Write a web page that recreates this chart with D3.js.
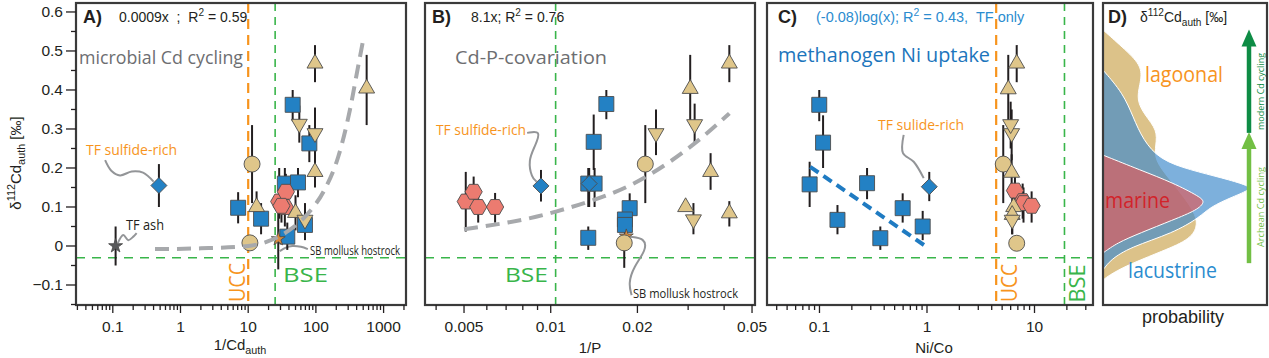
<!DOCTYPE html>
<html><head><meta charset="utf-8">
<script src="https://cdn.jsdelivr.net/npm/d3@7"></script>
<style>
body{margin:0;background:#fff;}
svg{display:block;}
text{font-family:"Liberation Sans",Arial,sans-serif;}
.my{font-family:"Open Sans",sans-serif;}
</style></head><body>
<svg id="c" width="1269" height="358" fill="#231f20"></svg>
<script>
// ---------------- DATA ----------------
// each point: [x, δ112Cd_auth, error-bar low, error-bar high]
// Panel A  (x = 1/Cd_auth)
const aSquares  = [[7.1,0.098,0.058,0.138],[15.5,0.07,0.03,0.11],[37.8,0.024,-0.01,0.06],[34.8,0.16,0.12,0.2],[54.4,0.163,0.125,0.2],[69,0.054,0.015,0.095],[45.4,0.362,0.32,0.4],[80,0.263,0.215,0.31]];
const aTriUp    = [[97,0.468,0.42,0.515],[562,0.404,0.31,0.49],[97,0.19,0.15,0.235],[13.3,0.10,0.06,0.14],[50,0.085,0.04,0.13]];
const aTriDown  = [[56.9,0.313,0.265,0.36],[97,0.289,0.2,0.355],[69,0.067,0.02,0.11]];
const aCircles  = [[11.4,0.21,0.11,0.31],[10.6,0.008,0.008,0.008]];
const aHexes    = [[28.7,0.114,0.07,0.2],[36,0.139,0.09,0.185],[34.8,0.10,0.05,0.15],[31,0.103,0.06,0.15]];
const aDiamonds = [[0.48,0.155,0.10,0.21]];
const aStarsGray= [[0.11,0.0,-0.05,0.05]];
const aStarsOr  = [[27.8,0.018,-0.06,0.10]];
const aFit      = [[0.42,-0.008],[2,-0.006],[10,0.0],[19,0.011],[40,0.04],[77,0.084],[135,0.145],[215,0.23],[319,0.35],[405,0.445],[495,0.525]];
const aUCC = 10, aBSE = 25;
// Panel B  (x = 1/P)
const bSquares  = [[0.0135,0.16,0.10,0.2],[0.0142,0.16,0.10,0.2],[0.0141,0.267,0.195,0.337],[0.0156,0.364,0.325,0.4],[0.0135,0.021,-0.01,0.05],[0.0188,0.097,0.06,0.135],[0.0181,0.068,0.03,0.1],[0.0181,0.054,0.02,0.09]];
const bTriUp    = [[0.0305,0.403,0.31,0.49],[0.0417,0.468,0.42,0.515],[0.0359,0.19,0.144,0.238],[0.0294,0.10,0.10,0.10],[0.0417,0.084,0.05,0.115]];
const bTriDown  = [[0.0232,0.289,0.233,0.35],[0.0316,0.312,0.26,0.365],[0.0313,0.068,0.03,0.11]];
const bCircles  = [[0.0213,0.21,0.11,0.31],[0.018,0.008,-0.056,0.008]];
const bHexes    = [[0.00507,0.114,0.037,0.19],[0.0054,0.139,0.10,0.178],[0.0056,0.10,0.06,0.14],[0.00641,0.10,0.06,0.136]];
const bDiamonds = [[0.00925,0.154,0.114,0.195],[0.0136,0.16,0.10,0.2]];
const bStarsOr  = [[0.0183,0.025,0.025,0.025]];
const bFit      = [[0.005,0.043],[0.0104,0.088],[0.0215,0.178],[0.0316,0.263],[0.0417,0.34]];
const bBSE = 0.0104;
// Panel C  (x = Ni/Co)
const cSquares  = [[0.0995,0.362,0.32,0.4],[0.108,0.265,0.2,0.335],[0.081,0.158,0.1,0.216],[0.147,0.067,0.03,0.105],[0.277,0.161,0.12,0.2],[0.368,0.02,-0.01,0.05],[0.594,0.097,0.06,0.135],[0.912,0.05,0.015,0.09]];
const cTriUp    = [[6.83,0.468,0.42,0.515],[5.7,0.402,0.31,0.49],[6.13,0.188,0.15,0.235],[6.4,0.10,0.06,0.14],[6.2,0.08,0.03,0.13]];
const cTriDown  = [[6.13,0.289,0.22,0.35],[6.0,0.312,0.25,0.37],[6.2,0.067,0.03,0.11]];
const cCircles  = [[5.12,0.21,0.11,0.31],[6.83,0.007,0.007,0.007]];
const cHexes    = [[6.58,0.142,0.1,0.18],[7.76,0.115,0.07,0.16],[7.9,0.11,0.06,0.15],[9.4,0.103,0.06,0.14]];
const cDiamonds = [[1.05,0.152,0.115,0.19]];
const cFit      = [[0.082,0.203],[1.04,-0.006]];
const cUCC = 4.4, cBSE = 19;
const BSE_Y = -0.03;
// Panel D  ([δ, probability])
const lagoonal   = [[0.554,0],[0.503,0.14],[0.459,0.25],[0.413,0.23],[0.374,0.21],[0.336,0.26],[0.297,0.34],[0.259,0.33],[0.221,0.32],[0.169,0.42],[0.118,0.52],[0.079,0.58],[0.049,0.59],[0.015,0.54],[-0.018,0.34],[-0.054,0.125],[-0.079,0.025],[-0.087,0]];
const lacustrine = [[0.451,0],[0.392,0.125],[0.331,0.188],[0.272,0.25],[0.221,0.356],[0.195,0.544],[0.174,0.75],[0.156,0.9],[0.146,0.931],[0.126,0.81],[0.10,0.669],[0.074,0.606],[0.033,0.438],[-0.003,0.169],[-0.036,0.044],[-0.062,0]];
const marine     = [[0.233,0],[0.195,0.231],[0.162,0.438],[0.126,0.606],[0.113,0.638],[0.092,0.588],[0.067,0.438],[0.033,0.231],[0.008,0.088],[-0.018,0]];
const modernArrow  = [0.29, 0.555];
const archeanArrow = [-0.044, 0.292];
// ticks
const yTicks = [-0.1,0,0.1,0.2,0.3,0.4,0.5,0.6];
const yTickLabels = ["−0.1","0","0.1","0.2","0.3","0.4","0.5","0.6"];
const yMinor = [-0.15,-0.05,0.05,0.15,0.25,0.35,0.45,0.55];
const aTicks = [0.1,1,10,100,1000], aTickLabels = ["0.1","1","10","100","1000"];
const bTicks = [0.005,0.01,0.02,0.05], bTickLabels = ["0.005","0.01","0.02","0.05"];
const cTicks = [0.1,1,10], cTickLabels = ["0.1","1","10"];
// annotation leader lines (data units)
const aSulfideLink = [[0.077,0.22],[0.095,0.193],[0.128,0.181],[0.19,0.191],[0.28,0.188],[0.40,0.165]];
const aAshLink = [[0.119,0.008],[0.143,0.028],[0.169,0.015],[0.201,0.024],[0.225,0.033]];
const aSBLink = [[29.4,-0.013],[36,-0.004],[45,0.0],[60,-0.002],[76,-0.008]];
const bSulfideLink = [[0.00828,0.29],[0.00929,0.297],[0.00881,0.255],[0.00835,0.22],[0.00859,0.174],[0.00894,0.165]];
const bSBLink = [[0.01887,0.024],[0.0212,0.02],[0.0215,-0.01],[0.0194,-0.053],[0.0186,-0.096],[0.0191,-0.126]];
const cSulideLink = [[0.607,0.285],[0.598,0.238],[0.752,0.216],[0.932,0.174]];

// ---------------- LAYOUT ----------------
const svg = d3.select('#c');
const TOP = 3, BOT = 305;
const yS = d3.scaleLinear().domain([-0.15,0.623]).range([304.5,3]);
const xA = d3.scaleLog().domain([0.0286,2143]).range([76,406]);
const xB = d3.scaleLog().domain([0.00366,0.0512]).range([425,755]);
const xC = d3.scaleLog().domain([0.0325,35]).range([767,1093]);
const xD = d3.scaleLinear().domain([0,1]).range([1103,1263]);

const C = {blue:'#2381c4', tan:'#dfc68a', hex:'#ec7b70', starOr:'#d98b3c', starGray:'#58595b',
  orange:'#f7941d', green:'#39b54a', gray:'#6d6e71', lead:'#939598', fit:'#a7a9ac'};

function makePanel(id, x0, x1) {
  svg.append('clipPath').attr('id','clip'+id).append('rect')
    .attr('x',x0).attr('y',TOP).attr('width',x1-x0).attr('height',BOT-TOP);
  const g = svg.append('g');
  const inner = g.append('g').attr('clip-path',`url(#clip${id})`);
  return {g, inner, x0, x1};
}
function frame(p){
  p.g.append('rect').attr('x',p.x0).attr('y',TOP).attr('width',p.x1-p.x0).attr('height',BOT-TOP)
    .attr('fill','none').attr('stroke','#3a3a3a').attr('stroke-width',2.2);
}
function minorLog(scale, majors){
  const [a,b] = scale.domain(); const out=[];
  for(let e=-4;e<=4;e++) for(let m=1;m<=9;m++){
    const v = +(m*Math.pow(10,e)).toPrecision(6);
    if(v>=a && v<=b && !majors.some(t=>Math.abs(t-v)/v<1e-6)) out.push(v);
  }
  return out;
}
function xAxis(p, x, ticks, labels){
  const g = p.g.append('g');
  g.selectAll(null).data(minorLog(x,ticks)).join('line')
    .attr('x1',d=>x(d)).attr('x2',d=>x(d)).attr('y1',BOT).attr('y2',BOT+5)
    .attr('stroke','#231f20').attr('stroke-width',1.3);
  g.selectAll(null).data(ticks).join('line')
    .attr('x1',d=>x(d)).attr('x2',d=>x(d)).attr('y1',BOT).attr('y2',BOT+8)
    .attr('stroke','#231f20').attr('stroke-width',1.3);
  g.selectAll(null).data(ticks).join('text')
    .attr('x',d=>x(d)).attr('y',332).attr('text-anchor','middle').attr('font-size',15.5)
    .text((d,i)=>labels[i]);
}
function rich(parent, x, y, parts, fs, attrs={}){
  const t = parent.append('text').attr('x',x).attr('y',y).attr('font-size',fs);
  Object.entries(attrs).forEach(([k,v])=>t.attr(k,v));
  let shift = 0;
  parts.forEach(([s,k])=>{
    const ts = t.append('tspan').text(s);
    const target = k==='sup' ? -fs*0.4 : k==='sub' ? fs*0.28 : 0;
    if(target-shift!==0) ts.attr('dy', target-shift);
    shift = target;
    if(k!=='n') ts.attr('font-size', fs*0.72);
  });
  return t;
}
const hexPath = (r)=>d3.range(6).map(i=>{const a=i*Math.PI/3;return [r*Math.cos(a), r*Math.sin(a)];});
const shapes = {
  square: d3.symbol(d3.symbolSquare,225)(),
  triUp: d3.symbol(d3.symbolTriangle,110)(),
  star: d3.symbol(d3.symbolStar,60)(),
  hex: 'M'+hexPath(8.6).map(p=>p.join(',')).join('L')+'Z',
  diamond: 'M0,-8L8,0L0,8L-8,0Z',
  circle: d3.symbol(d3.symbolCircle,201)()
};
function drawSeries(p, x, list){
  list.forEach(([arr])=>{
    p.inner.append('g').selectAll(null).data(arr.filter(d=>d[2]!==d[3])).join('line')
      .attr('x1',d=>x(d[0])).attr('x2',d=>x(d[0])).attr('y1',d=>yS(d[2])).attr('y2',d=>yS(d[3]))
      .attr('stroke','#231f20').attr('stroke-width',2);
  });
  list.forEach(([arr, shape, fill, rot])=>{
    p.inner.append('g').selectAll(null).data(arr).join('path')
      .attr('d', shapes[shape])
      .attr('transform', d=>`translate(${x(d[0])},${yS(d[1])})${rot?' rotate(180)':''}`)
      .attr('fill', fill).attr('stroke','#4d4d4d').attr('stroke-width',0.9);
  });
}
function vline(p, x, v, col, w){
  p.inner.append('line').attr('x1',x(v)).attr('x2',x(v)).attr('y1',TOP).attr('y2',BOT)
    .attr('stroke',col).attr('stroke-width',w).attr('stroke-dasharray', col===C.orange?'10,6':'8,6');
}
function hline(p, v){
  p.inner.append('line').attr('x1',p.x0).attr('x2',p.x1).attr('y1',yS(v)).attr('y2',yS(v))
    .attr('stroke',C.green).attr('stroke-width',1.6).attr('stroke-dasharray','9,7');
}
function fitLine(p, x, data, col, w, dash, curve){
  p.inner.append('path').datum(data)
    .attr('d', d3.line().x(d=>x(d[0])).y(d=>yS(d[1])).curve(curve||d3.curveMonotoneX))
    .attr('fill','none').attr('stroke',col).attr('stroke-width',w).attr('stroke-dasharray',dash);
}
function leader(p, x, data, curve){
  p.inner.append('path').datum(data)
    .attr('d', d3.line().x(d=>x(d[0])).y(d=>yS(d[1])).curve(curve||d3.curveCatmullRom))
    .attr('fill','none').attr('stroke',C.lead).attr('stroke-width',2);
}
function label(parent, x, y, txt, fs, col, len, cls, anchor){
  const t = parent.append('text').attr('x',x).attr('y',y).attr('font-size',fs).attr('fill',col).text(txt);
  if(cls) t.attr('class',cls);
  if(len) t.attr('textLength',len).attr('lengthAdjust','spacingAndGlyphs');
  if(anchor) t.attr('text-anchor',anchor);
  return t;
}
function vlabel(parent, xBase, yc, txt, fs, col, len){
  const g = parent.append('g').attr('transform',`translate(${xBase},${yc}) rotate(-90)`);
  const t = g.append('text').attr('x',0).attr('y',0).attr('text-anchor','middle').attr('font-size',fs)
    .attr('fill',col).attr('class','my').text(txt);
  if(len) t.attr('textLength',len).attr('lengthAdjust','spacingAndGlyphs');
}

// ---------------- PANEL A ----------------
const pA = makePanel('A',76,406);
vline(pA,xA,aUCC,C.orange,2.2); vline(pA,xA,aBSE,C.green,1.6); hline(pA,BSE_Y);
leader(pA,xA,aSulfideLink); leader(pA,xA,aAshLink); leader(pA,xA,aSBLink);
drawSeries(pA,xA,[[aSquares,'square',C.blue],[aDiamonds,'diamond',C.blue],[aHexes,'hex',C.hex],
  [aStarsGray,'star',C.starGray],[aStarsOr,'star',C.starOr],[aCircles,'circle',C.tan],
  [aTriUp,'triUp',C.tan],[aTriDown,'triUp',C.tan,true]]);
fitLine(pA,xA,aFit,C.fit,4,'14,8');
label(pA.inner,79,64,'microbial Cd cycling',18.5,C.gray,164,'my');
label(pA.inner,86,155,'TF sulfide-rich',14,C.orange,91,'my');
label(pA.inner,126,230,'TF ash',14,'#231f20',38,'my');
label(pA.inner,310,255,'SB mollusk hostrock',12.5,'#231f20',90,'my');
vlabel(pA.inner,245,282.5,'UCC',21,C.orange,39);
label(pA.inner,283,282,'BSE',20,C.green,45,'my');
pA.g.append('text').attr('x',83).attr('y',23).attr('font-size',18).attr('font-weight','bold').text('A)');
rich(pA.g,119,22,[['0.0009x  ;  R','n'],['2','sup'],[' = 0.59','n']],14,{'xml:space':'preserve'});
frame(pA);
xAxis(pA,xA,aTicks,aTickLabels);
// y axis
const yg = svg.append('g');
yg.selectAll(null).data(yMinor).join('line').attr('x1',71).attr('x2',76).attr('y1',d=>yS(d)).attr('y2',d=>yS(d)).attr('stroke','#231f20').attr('stroke-width',1.3);
yg.selectAll(null).data(yTicks).join('line').attr('x1',66).attr('x2',76).attr('y1',d=>yS(d)).attr('y2',d=>yS(d)).attr('stroke','#231f20').attr('stroke-width',1.3);
yg.selectAll(null).data(yTicks).join('text').attr('x',63).attr('y',d=>yS(d)+5.5).attr('text-anchor','end').attr('font-size',15.5).text((d,i)=>yTickLabels[i]);
const yt = svg.append('g').attr('transform','translate(21,163) rotate(-90)');
rich(yt,0,0,[['δ','n'],['112','sup'],['Cd','n'],['auth','sub'],[' [‰]','n']],15,{'text-anchor':'middle'});
rich(svg,240,350,[['1/Cd','n'],['auth','sub']],15,{'text-anchor':'middle'});

// ---------------- PANEL B ----------------
const pB = makePanel('B',425,755);
vline(pB,xB,bBSE,C.green,1.6); hline(pB,BSE_Y);
leader(pB,xB,bSulfideLink,d3.curveBasis); leader(pB,xB,bSBLink,d3.curveBasis);
drawSeries(pB,xB,[[bSquares,'square',C.blue],[bDiamonds,'diamond',C.blue],[bHexes,'hex',C.hex],
  [bStarsOr,'star',C.starOr],[bCircles,'circle',C.tan],
  [bTriUp,'triUp',C.tan],[bTriDown,'triUp',C.tan,true]]);
fitLine(pB,xB,bFit,C.fit,4,'14,8');
label(pB.inner,455,64,'Cd-P-covariation',18.5,C.gray,152,'my');
label(pB.inner,436,135,'TF sulfide-rich',14,C.orange,90,'my');
label(pB.inner,633,298,'SB mollusk hostrock',13,'#231f20',105,'my');
label(pB.inner,505,282,'BSE',20,C.green,43,'my');
pB.g.append('text').attr('x',432).attr('y',23).attr('font-size',18).attr('font-weight','bold').text('B)');
rich(pB.g,471,22,[['8.1x; R','n'],['2','sup'],[' = 0.76','n']],14);
frame(pB);
xAxis(pB,xB,bTicks,bTickLabels);
svg.append('text').attr('x',590).attr('y',353).attr('text-anchor','middle').attr('font-size',15).text('1/P');

// ---------------- PANEL C ----------------
const pC = makePanel('C',767,1093);
vline(pC,xC,cUCC,C.orange,2.2); vline(pC,xC,cBSE,C.green,1.6); hline(pC,BSE_Y);
leader(pC,xC,cSulideLink);
drawSeries(pC,xC,[[cSquares,'square',C.blue],[cDiamonds,'diamond',C.blue],[cHexes,'hex',C.hex],
  [cCircles,'circle',C.tan],[cTriUp,'triUp',C.tan],[cTriDown,'triUp',C.tan,true]]);
fitLine(pC,xC,cFit,'#1f7bc2',4,'10,6',d3.curveLinear);
label(pC.inner,778,62,'methanogen Ni uptake',20,'#1c75bc',212,'my');
label(pC.inner,878,130,'TF sulide-rich',14,C.orange,86,'my');
vlabel(pC.inner,1016.5,283,'UCC',21,C.orange,38);
vlabel(pC.inner,1085,283.5,'BSE',21,C.green,38);
pC.g.append('text').attr('x',778).attr('y',23).attr('font-size',18).attr('font-weight','bold').text('C)');
rich(pC.g,816,22,[['(-0.08)log(x); R','n'],['2','sup'],[' = 0.43,  TF only','n']],14.5,{'fill':'#2b8ccf','xml:space':'preserve'});
frame(pC);
xAxis(pC,xC,cTicks,cTickLabels);
svg.append('text').attr('x',934).attr('y',353).attr('text-anchor','middle').attr('font-size',15).text('Ni/Co');

// ---------------- PANEL D ----------------
const pD = makePanel('D',1103,1267);
const area = d3.area().y(d=>yS(d[0])).x0(xD(0)).x1(d=>xD(d[1])).curve(d3.curveBasis);
pD.inner.append('path').datum(lagoonal).attr('d',area).attr('fill','#dcc289').attr('stroke','#fff').attr('stroke-width',1);
pD.inner.append('path').datum(lacustrine).attr('d',area).attr('fill','#3f8acb').attr('fill-opacity',0.68).attr('stroke','#fff').attr('stroke-width',1);
pD.inner.append('path').datum(marine).attr('d',area).attr('fill','#e0595a').attr('fill-opacity',0.66).attr('stroke','#fff').attr('stroke-width',1);
function arrow(range, col){
  const xa = 1249, tip = yS(range[1]), base = yS(range[0]);
  pD.inner.append('line').attr('x1',xa).attr('x2',xa).attr('y1',base).attr('y2',tip+12)
    .attr('stroke',col).attr('stroke-width',4.5);
  pD.inner.append('path').attr('d',`M${xa},${tip}L${xa+7.5},${tip+17}L${xa-7.5},${tip+17}Z`).attr('fill',col);
}
arrow(archeanArrow,'#72bf44');
arrow(modernArrow,'#0e8c45');
vlabel(pD.inner,1263.5,91.5,'modern Cd cycling',9.5,'#0e8c45',77);
vlabel(pD.inner,1263.5,207,'Archean Cd cycling',9.5,'#72bf44',80);
label(pD.inner,1145,82,'lagoonal',21,C.orange,78,'my');
label(pD.inner,1105,208,'marine',21,'#d2232a',65,'my');
label(pD.inner,1128,278,'lacustrine',21,'#2b8ccf',89,'my');
pD.g.append('text').attr('x',1108).attr('y',23).attr('font-size',18).attr('font-weight','bold').text('D)');
rich(pD.g,1140,22,[['δ','n'],['112','sup'],['Cd','n'],['auth','sub'],[' [‰]','n']],14);
frame(pD);
svg.append('text').attr('x',1183).attr('y',323).attr('text-anchor','middle').attr('font-size',18).text('probability');
</script></body></html>
